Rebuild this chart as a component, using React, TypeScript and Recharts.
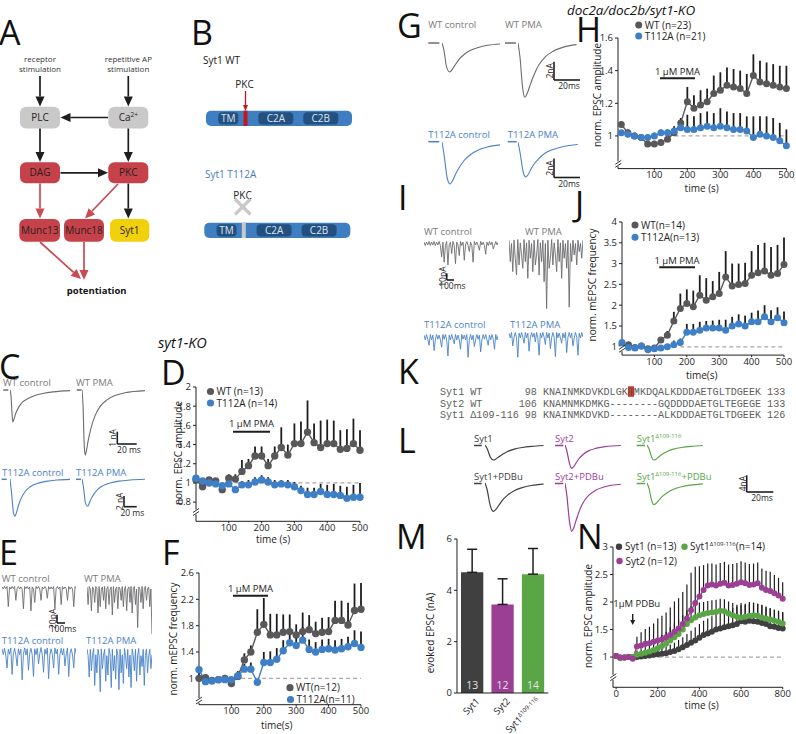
import React from "react";
import {
  LineChart,
  Line,
  XAxis,
  YAxis,
  ErrorBar,
  ReferenceLine,
  BarChart,
  Bar,
  Cell,
  LabelList,
} from "recharts";

const FONT = "'Open Sans', 'DejaVu Sans', sans-serif";
const INK = "#1e1e1e";
const GRAY = "#58585a";
const BLUE = "#3f7fc6";
const TRACE_GRAY = "#6c6c6e";
const TRACE_BLUE = "#4a82c6";
const DARK = "#404041";
const PURPLE = "#9b3f95";
const GREEN = "#5aa647";
const BOX_RED = "#c5424a";
const BOX_GRAY = "#c9c9ca";
const BOX_YELLOW = "#f1d10b";
const SYT_BLUE = "#3f7ec0";
const SYT_DOMAIN = "#24507f";

// ---- time courses (s) ----
const TIME_500 = [0, 20, 40, 60, 80, 100, 120, 140, 160, 180, 200, 220, 240, 260, 280, 300, 320, 340, 360, 380, 400, 420, 440, 460, 480, 500];

// D: syt1-KO, norm. EPSC amplitude
const D_WT = [1.03, 0.96, 1.03, 1.02, 0.93, 1.05, 1.04, 1.12, 1.18, 1.28, 1.28, 1.18, 1.28, 1.37, 1.29, 1.41, 1.41, 1.53, 1.42, 1.37, 1.41, 1.41, 1.35, 1.36, 1.41, 1.34];
const D_WT_ERR = [0.02, 0.03, 0.03, 0.03, 0.03, 0.04, 0.05, 0.12, 0.07, 0.1, 0.1, 0.07, 0.1, 0.21, 0.11, 0.21, 0.23, 0.33, 0.2, 0.28, 0.25, 0.24, 0.2, 0.2, 0.26, 0.21];
const D_MUT = [1.05, 1.02, 1.0, 0.99, 0.97, 0.99, 0.93, 0.98, 0.98, 1.01, 1.03, 1.01, 0.98, 0.99, 0.98, 0.96, 0.92, 0.88, 0.88, 0.91, 0.88, 0.88, 0.87, 0.84, 0.85, 0.85];
const D_MUT_ERR = [0.02, 0.02, 0.02, 0.02, 0.02, 0.03, 0.04, 0.04, 0.05, 0.05, 0.05, 0.05, 0.05, 0.04, 0.05, 0.05, 0.05, 0.07, 0.07, 0.08, 0.1, 0.11, 0.1, 0.12, 0.13, 0.15];

// F: syt1-KO, norm. mEPSC frequency
const F_WT = [1.0, 1.01, 0.97, 0.98, 1.0, 0.92, 1.03, 1.28, 1.4, 1.7, 1.82, 1.66, 1.66, 1.7, 1.71, 1.66, 1.71, 1.74, 1.68, 1.7, 1.71, 1.88, 1.88, 1.81, 2.03, 2.05];
const F_WT_ERR = [0.1, 0.03, 0.03, 0.03, 0.03, 0.03, 0.08, 0.1, 0.1, 0.35, 0.4, 0.32, 0.32, 0.27, 0.26, 0.16, 0.29, 0.22, 0.18, 0.22, 0.22, 0.3, 0.3, 0.34, 0.41, 0.4];
const F_MUT = [1.13, 0.95, 0.96, 0.98, 0.98, 0.98, 1.04, 1.14, 1.14, 0.94, 1.24, 1.24, 1.29, 1.42, 1.54, 1.5, 1.58, 1.44, 1.4, 1.44, 1.45, 1.43, 1.45, 1.48, 1.53, 1.47];
const F_MUT_ERR = [0.05, 0.02, 0.02, 0.02, 0.02, 0.03, 0.05, 0.08, 0.1, 0.05, 0.16, 0.17, 0.17, 0.16, 0.2, 0.17, 0.2, 0.15, 0.15, 0.15, 0.15, 0.15, 0.15, 0.15, 0.2, 0.24];

// H: doc2a/doc2b/syt1-KO, norm. EPSC amplitude
const H_WT = [1.07, 1.02, 1.0, 0.99, 0.95, 0.95, 0.96, 0.98, 1.02, 1.08, 1.21, 1.17, 1.19, 1.21, 1.26, 1.28, 1.31, 1.3, 1.29, 1.26, 1.37, 1.33, 1.32, 1.31, 1.3, 1.29];
const H_WT_ERR = [0.02, 0.02, 0.02, 0.02, 0.02, 0.02, 0.02, 0.02, 0.03, 0.03, 0.09, 0.08, 0.09, 0.08, 0.11, 0.11, 0.11, 0.11, 0.11, 0.12, 0.13, 0.13, 0.13, 0.13, 0.13, 0.14];
const H_MUT = [1.02, 1.01, 1.0, 0.99, 0.99, 1.0, 1.02, 1.02, 1.03, 1.05, 1.04, 1.04, 1.05, 1.06, 1.05, 1.06, 1.05, 1.04, 1.04, 1.03, 0.99, 1.01, 1.0, 0.99, 0.97, 0.94];
const H_MUT_ERR = [0.01, 0.01, 0.01, 0.01, 0.02, 0.02, 0.02, 0.02, 0.03, 0.04, 0.09, 0.08, 0.09, 0.09, 0.09, 0.11, 0.1, 0.1, 0.1, 0.09, 0.13, 0.11, 0.12, 0.12, 0.11, 0.1];

// J: doc2a/doc2b/syt1-KO, norm. mEPSC frequency
const J_WT = [1.05, 1.05, 0.98, 1.02, 0.95, 0.97, 1.16, 1.28, 1.62, 1.92, 2.04, 1.96, 2.24, 2.12, 2.2, 2.28, 2.68, 2.46, 2.5, 2.52, 2.72, 2.78, 2.82, 2.72, 2.76, 2.98];
const J_WT_ERR = [0.05, 0.03, 0.03, 0.03, 0.03, 0.03, 0.05, 0.1, 0.22, 0.36, 0.34, 0.39, 0.48, 0.53, 0.38, 0.52, 0.62, 0.54, 0.5, 0.5, 0.58, 0.67, 0.68, 0.68, 0.69, 0.65];
const J_MUT = [1.1, 0.98, 0.97, 1.02, 0.93, 0.95, 0.97, 1.0, 1.05, 1.1, 1.35, 1.35, 1.4, 1.45, 1.45, 1.45, 1.4, 1.5, 1.55, 1.5, 1.6, 1.6, 1.72, 1.6, 1.7, 1.58];
const J_MUT_ERR = [0.02, 0.02, 0.02, 0.02, 0.02, 0.02, 0.03, 0.05, 0.1, 0.1, 0.2, 0.2, 0.2, 0.17, 0.18, 0.2, 0.25, 0.22, 0.23, 0.25, 0.22, 0.27, 0.28, 0.28, 0.25, 0.27];

// N: PDBu potentiation
const TIME_800 = [0, 20, 40, 60, 80, 100, 120, 140, 160, 180, 200, 220, 240, 260, 280, 300, 320, 340, 360, 380, 400, 420, 440, 460, 480, 500, 520, 540, 560, 580, 600, 620, 640, 660, 680, 700, 720, 740, 760, 780, 800];
const N_SYT1 = [1.02, 0.99, 0.99, 1.0, 1.0, 1.0, 1.01, 1.02, 1.03, 1.04, 1.05, 1.06, 1.07, 1.09, 1.11, 1.14, 1.18, 1.22, 1.26, 1.3, 1.35, 1.4, 1.43, 1.46, 1.5, 1.52, 1.54, 1.56, 1.58, 1.6, 1.65, 1.64, 1.66, 1.65, 1.64, 1.62, 1.6, 1.56, 1.55, 1.53, 1.52];
const N_SYT1_ERR = [0.02, 0.02, 0.02, 0.02, 0.02, 0.05, 0.06, 0.07, 0.08, 0.09, 0.1, 0.11, 0.12, 0.14, 0.15, 0.17, 0.18, 0.2, 0.22, 0.24, 0.25, 0.26, 0.27, 0.28, 0.28, 0.3, 0.3, 0.3, 0.31, 0.32, 0.33, 0.33, 0.34, 0.34, 0.33, 0.33, 0.32, 0.32, 0.31, 0.31, 0.3];
const N_SYT2 = [1.02, 0.99, 0.99, 1.0, 0.97, 1.19, 1.21, 1.24, 1.25, 1.28, 1.3, 1.32, 1.36, 1.4, 1.46, 1.52, 1.6, 1.7, 1.85, 1.98, 2.1, 2.22, 2.3, 2.32, 2.3, 2.33, 2.35, 2.3, 2.31, 2.33, 2.36, 2.34, 2.31, 2.32, 2.34, 2.26, 2.22, 2.2, 2.16, 2.12, 2.06];
const N_SYT2_ERR = [0.02, 0.02, 0.02, 0.02, 0.02, 0.18, 0.24, 0.27, 0.3, 0.33, 0.4, 0.43, 0.45, 0.5, 0.55, 0.55, 0.58, 0.62, 0.68, 0.66, 0.55, 0.45, 0.4, 0.38, 0.38, 0.38, 0.38, 0.38, 0.38, 0.38, 0.38, 0.38, 0.38, 0.38, 0.38, 0.35, 0.35, 0.35, 0.33, 0.32, 0.3];
const N_SYTD = [1.02, 0.98, 0.99, 1.0, 1.0, 1.04, 1.06, 1.08, 1.1, 1.13, 1.16, 1.2, 1.24, 1.3, 1.36, 1.42, 1.5, 1.6, 1.67, 1.72, 1.76, 1.78, 1.8, 1.81, 1.82, 1.84, 1.83, 1.79, 1.76, 1.73, 1.72, 1.73, 1.75, 1.76, 1.75, 1.72, 1.7, 1.68, 1.66, 1.64, 1.61];
const N_SYTD_ERR = [0.02, 0.02, 0.02, 0.02, 0.02, 0.08, 0.1, 0.12, 0.14, 0.16, 0.18, 0.2, 0.22, 0.24, 0.25, 0.26, 0.26, 0.25, 0.25, 0.24, 0.23, 0.22, 0.22, 0.22, 0.22, 0.22, 0.22, 0.22, 0.22, 0.22, 0.22, 0.22, 0.22, 0.22, 0.22, 0.22, 0.21, 0.21, 0.2, 0.2, 0.2];

// M: evoked EPSC (nA)
const M_CATS = ["Syt1", "Syt2", "Syt1Δ109-116"];
const M_VALUES = [4.7, 3.45, 4.63];
const M_ERR = [0.9, 1.0, 1.0];
const M_N = [13, 12, 14];
const M_COLORS = [DARK, PURPLE, GREEN];

// ---- evoked EPSC traces: [ms, nA] ----
const C_WT_CTRL = [[0, 0], [1, -0.5], [2, -1.9], [2.8, -2.6], [4, -2.35], [6, -1.85], [9, -1.35], [13, -0.95], [18, -0.7], [25, -0.45], [33, -0.28], [43, -0.15], [60, -0.05]];
const C_WT_PMA = [[0, 0], [1, -1.2], [2.3, -4.6], [3.3, -5.3], [4.5, -4.9], [6, -4.2], [9, -3.1], [13, -2.1], [18, -1.35], [25, -0.8], [33, -0.45], [43, -0.22], [63, -0.05]];
const C_MUT_CTRL = [[0, 0], [1.5, -2.5], [3.5, -6.4], [5, -7.0], [6.5, -6.3], [8.5, -5.0], [11, -3.7], [15, -2.4], [20, -1.5], [27, -0.85], [36, -0.45], [47, -0.2], [60, -0.08]];
const C_MUT_PMA = [[0, 0], [1.5, -1.6], [3.5, -4.6], [5.5, -5.15], [7, -4.7], [9, -3.8], [12, -2.8], [16, -1.9], [21, -1.25], [28, -0.75], [37, -0.4], [48, -0.2], [63, -0.06]];

const G_WT_CTRL = [[0, 0], [1.5, -0.8], [3.5, -2.6], [5.8, -3.15], [7.5, -2.95], [10, -2.4], [13, -1.8], [17, -1.25], [22, -0.8], [28, -0.48], [35, -0.25], [45, -0.1]];
const G_WT_PMA = [[0, 0], [1.5, -1.5], [3.5, -4.8], [5.2, -5.9], [7, -5.5], [9.5, -4.5], [12.5, -3.4], [16, -2.4], [21, -1.5], [27, -0.9], [35, -0.45], [45, -0.18]];
const G_MUT_CTRL = [[0, 0], [1.5, -1.2], [4, -3.6], [6.2, -4.2], [8, -3.9], [10.5, -3.2], [13.5, -2.5], [17, -1.85], [22, -1.25], [28, -0.8], [35, -0.5], [45, -0.28]];
const G_MUT_PMA = [[0, 0], [1.5, -1.0], [4, -3.0], [6, -3.5], [7.8, -3.25], [10, -2.7], [13, -2.1], [16.5, -1.6], [21, -1.1], [27, -0.75], [35, -0.45], [46, -0.25]];

const L_SYT1 = [[0, 0], [1.5, -0.8], [4, -2.9], [6.2, -3.6], [8, -3.4], [10.5, -2.8], [13.5, -2.15], [17, -1.55], [22, -1.0], [28, -0.6], [35, -0.32], [44, -0.12]];
const L_SYT2 = [[0, 0], [1.2, -1.2], [3.5, -4.6], [5, -5.6], [6.5, -5.2], [8.5, -4.2], [11, -3.1], [14, -2.15], [18, -1.35], [23, -0.8], [30, -0.4], [42, -0.12]];
const L_SYTD = [[0, 0], [1.5, -0.9], [3.5, -2.9], [5, -3.6], [6.8, -3.4], [9, -2.8], [12, -2.1], [15.5, -1.5], [20, -1.0], [26, -0.6], [33, -0.32], [42, -0.12]];
const L_SYT1_PDBU = [[0, 0], [1.5, -1.5], [4, -5.5], [6.2, -6.8], [8, -6.4], [10.5, -5.3], [13.5, -4.0], [17, -2.9], [22, -1.85], [28, -1.1], [35, -0.6], [44, -0.25]];
const L_SYT2_PDBU = [[0, 0], [1.2, -2.5], [3.5, -9.5], [5, -11.6], [6.5, -10.8], [8.5, -8.8], [11, -6.5], [14, -4.5], [18, -2.9], [23, -1.75], [30, -0.9], [42, -0.3]];
const L_SYTD_PDBU = [[0, 0], [1.5, -1.3], [3.5, -4.2], [5, -5.2], [6.8, -4.9], [9, -4.1], [12, -3.1], [15.5, -2.25], [20, -1.5], [26, -0.9], [33, -0.5], [42, -0.2]];

// ---- mEPSC recordings (pA) ----
const E_WT_CTRL = [2, -3, 3, -2, 3, -45, 2, -3, 3, -2, 3, -30, -2, 3, -3, 2, -3, -50, 3, -2, 3, -3, 2, -55, 2, -3, -35, 3, -2, 3, -3, -30, 2, -3, 3, -2, -25, 3, -3, 2, -3, 3, -50, -2, 3, -3, 2, -40, 3, -3, 2, -2, -30, 3, -3, 2, -3, -45, 3, -2];
const E_WT_PMA = [2, -40, 3, -3, -55, 2, -3, -35, 3, -2, -60, 3, -45, -3, 2, -30, 3, -50, -2, 3, -40, -3, 2, -65, 3, -35, -3, 2, -50, 2, -3, -30, 3, -45, -2, 3, -55, -3, 2, -35, 3, -60, -2, 3, -40, -3, -95, 2, -3, -35, 3, -50, -2, 3, -30, -3, 2, -45, -3, -110];
const E_MUT_CTRL = [6, -8, 7, -9, -40, 5, -7, 8, -55, -6, 7, -9, -35, 6, -8, 5, -68, -7, 8, -9, 6, -45, -5, 7, -9, -60, 6, -8, 7, -30, -6, 9, -8, -50, 5, -7, 8, -65, -9, 6, -7, -40, 8, -6, 5, -55, -8, 7, -9, 6, -35, -7, 8, -60, -5, 6, -9, -40, 7, -6];
const E_MUT_PMA = [7, -9, -60, 6, -45, -8, 8, -80, -7, -50, 6, -9, -95, 7, -40, -8, 6, -70, -9, -55, 8, -7, -85, 6, -45, -9, -65, 7, -8, -90, 6, -50, -7, -75, 8, -9, -40, 6, -60, -8, -85, 7, -9, -45, 6, -70, -7, 8, -55, -9, -35, 6, -80, -8, 7, -50, -9, 6, -40, -7];
const I_WT_CTRL = [2, -3, 2, -2, 3, -3, 2, -2, 3, -3, 2, -2, 3, -3, -20, 2, -28, -3, 3, -32, -2, 2, -15, 3, -3, -30, 2, -2, -18, 3, -3, 2, -25, -2, 3, -3, -12, 2, -3, -28, 3, -2, 2, -3, -10, 3, -2, 2, -3, -16, 2, -3, 3, -2, 2, -8, -3, 3, -2, 2];
const I_WT_PMA = [2, -30, -3, -45, 2, -25, -50, 3, -35, -2, -20, -40, 3, -30, -2, -55, 2, -25, -3, -45, 2, -35, -20, 3, -50, -2, -30, 2, -60, -3, -100, 2, -40, -25, 3, -35, -2, -20, -45, 3, -30, -2, -55, 2, -25, -3, -40, 2, -98, -3, -30, 2, -20, -3, -35, 2, -15, -3, -25, 2];
const I_MUT_CTRL = [3, -4, 4, -3, -12, 4, -4, 3, -20, -4, 4, -3, 3, -4, -15, 4, -3, 4, -4, -28, 3, -4, 4, -3, -10, 4, -4, 3, -4, -18, 4, -3, 3, -4, 4, -30, -3, 4, -4, 3, -14, -4, 4, -3, 3, -22, -4, 4, -3, 4, -4, -12, 3, -4, 4, -3, -18, 4, -4, 3];
const I_MUT_PMA = [3, -4, 4, -16, -3, 4, -4, -33, 3, -4, 4, -3, -12, 4, -4, 3, -24, -4, 4, -3, 3, -10, 4, -4, -30, 3, -4, 4, -3, -14, 4, -4, 3, -20, -4, 4, -3, -32, 4, -4, 3, -4, -12, 3, -4, 4, -26, -3, 4, -4, 3, -16, -4, 4, -3, -30, 3, -4, 4, -3];

const SEQ_WT = ["KNAINMKDVKDLGK", "T", "MKDQALKDDDAETGLTDGEEK"];
const SEQ_SYT2 = "KNAMNMKDMKG--------GQDDDDAETGLTEGEGE";
const SEQ_DEL = "KNAINMKDVKD--------ALKDDDAETGLTDGEEK";

function buildRows(time: number[], cols: [string, number[], number[]][]) {
  return time.map((t, i) => {
    const r: any = { t };
    cols.forEach(([k, v, e]) => {
      r[k] = v[i];
      r[k + "Err"] = [0, e[i]];
    });
    return r;
  });
}

const tickStyle = { fontSize: 9.5, fill: INK };

function TimeCourse({ pl, pt, pr, pb, rows, series, xDomain, xTicks, yDomain, yTicks, dash, r, ew }: any) {
  return (
    <div style={{ position: "absolute", left: pl - 40, top: pt - 10 }}>
      <LineChart width={pr - pl + 50} height={pb - pt + 32} data={rows} margin={{ top: 10, right: 10, bottom: 0, left: 0 }}>
        <XAxis type="number" dataKey="t" domain={xDomain} ticks={xTicks} interval={0} height={22} tickSize={2} tickMargin={1} stroke={INK} tick={tickStyle} />
        <YAxis type="number" domain={yDomain} ticks={yTicks} interval={0} width={40} tickSize={3} tickMargin={2} stroke={INK} tick={tickStyle} />
        <ReferenceLine segment={[{ x: dash[0], y: 1 }, { x: dash[1], y: 1 }]} stroke="#a8a8a8" strokeDasharray="4 3" strokeWidth={1.2} />
        {series.map((s: any) => (
          <Line key={s.key} dataKey={s.key} type="linear" stroke={s.color} strokeWidth={1.4}
            dot={{ r, fill: s.color, stroke: s.color, strokeWidth: 0 }} isAnimationActive={false}>
            <ErrorBar dataKey={s.key + "Err"} width={0} stroke={INK} strokeWidth={ew} direction="y" />
          </Line>
        ))}
      </LineChart>
    </div>
  );
}

function Evoked({ x, base, pts, pxMs, pxNA, color, sw = 1.1 }: any) {
  const rows = pts.map((p: number[]) => ({ t: p[0], v: p[1] }));
  const tMax = pts[pts.length - 1][0];
  const vMin = Math.min(...pts.map((p: number[]) => p[1]));
  const pad = 2 / pxNA;
  return (
    <div style={{ position: "absolute", left: x, top: base - pad * pxNA }}>
      <LineChart width={tMax * pxMs} height={(2 * pad - vMin) * pxNA} data={rows} margin={{ top: 0, right: 0, bottom: 0, left: 0 }}>
        <XAxis type="number" dataKey="t" domain={[0, tMax]} hide />
        <YAxis type="number" domain={[vMin - pad, pad]} hide />
        <Line type="monotone" dataKey="v" stroke={color} strokeWidth={sw} dot={false} isAnimationActive={false} />
      </LineChart>
    </div>
  );
}

function Minis({ x, base, w, vals, pxPA, color }: any) {
  const rows = vals.map((v: number, i: number) => ({ i, v }));
  const hi = Math.max(...vals) + 1.5 / pxPA;
  const lo = Math.min(...vals) - 1.5 / pxPA;
  return (
    <div style={{ position: "absolute", left: x, top: base - hi * pxPA }}>
      <LineChart width={w} height={(hi - lo) * pxPA} data={rows} margin={{ top: 0, right: 0, bottom: 0, left: 0 }}>
        <XAxis type="number" dataKey="i" domain={[0, vals.length - 1]} hide />
        <YAxis type="number" domain={[lo, hi]} hide />
        <Line type="linear" dataKey="v" stroke={color} strokeWidth={0.9} dot={false} isAnimationActive={false} />
      </LineChart>
    </div>
  );
}

function MTick(props: any) {
  const { x, y, payload } = props;
  const [base, sup] = String(payload.value).split("Δ");
  return (
    <g transform={`translate(${x + 8},${y + 1})`}>
      <text transform="rotate(-45)" textAnchor="end" fontSize={9.5} fill={INK}>
        {base}
        {sup ? <tspan fontSize={6} dy={-4}>{"Δ" + sup}</tspan> : null}
      </text>
    </g>
  );
}

function Arrow({ x1, y1, x2, y2, color = INK, head = 10, hw = 9, sw = 1.7 }: any) {
  const dx = x2 - x1, dy = y2 - y1;
  const L = Math.hypot(dx, dy);
  const ux = dx / L, uy = dy / L;
  const bx = x2 - ux * head, by = y2 - uy * head;
  const px = (-uy * hw) / 2, py = (ux * hw) / 2;
  return (
    <g>
      <line x1={x1} y1={y1} x2={bx} y2={by} stroke={color} strokeWidth={sw} />
      <polygon points={`${x2},${y2} ${bx + px},${by + py} ${bx - px},${by - py}`} fill={color} />
    </g>
  );
}

function Node({ x, y, w, h, fill, children }: any) {
  return (
    <g>
      <rect x={x} y={y} width={w} height={h} rx={6} fill={fill} />
      <text x={x + w / 2} y={y + h / 2 + 3.5} textAnchor="middle" fontSize={10} fill="#2a2020">{children}</text>
    </g>
  );
}

function SytBar({ x, y, mark, markColor }: any) {
  return (
    <g>
      <rect x={x} y={y} width={146} height={15.3} rx={5} fill={SYT_BLUE} />
      <rect x={x + 12.3} y={y + 1.6} width={20} height={12.1} rx={4} fill={SYT_DOMAIN} />
      <rect x={x + 52.3} y={y + 1.6} width={35} height={12.1} rx={4} fill={SYT_DOMAIN} />
      <rect x={x + 97.3} y={y + 1.6} width={35} height={12.1} rx={4} fill={SYT_DOMAIN} />
      <text x={x + 22.3} y={y + 11.7} textAnchor="middle" fontSize={10} fill="#dbe6f2">TM</text>
      <text x={x + 69.8} y={y + 11.7} textAnchor="middle" fontSize={10} fill="#dbe6f2">C2A</text>
      <text x={x + 114.8} y={y + 11.7} textAnchor="middle" fontSize={10} fill="#dbe6f2">C2B</text>
      <rect x={x + mark} y={y} width={4} height={15.3} fill={markColor} />
    </g>
  );
}

function Break({ x, y }: any) {
  return (
    <g>
      <rect x={x - 3} y={y - 2} width={6} height={5} fill="#fff" />
      <line x1={x - 3} y1={y + 1} x2={x + 3} y2={y - 3} stroke={INK} strokeWidth={0.9} />
      <line x1={x - 3} y1={y + 4} x2={x + 3} y2={y} stroke={INK} strokeWidth={0.9} />
    </g>
  );
}

function Key({ x, y, color, r = 3.6, children }: any) {
  return (
    <g>
      <circle cx={x} cy={y} r={r} fill={color} />
      <text x={x + 6} y={y + 3.5} fontSize={10} fill={INK}>{children}</text>
    </g>
  );
}

function VLabel({ x, y, children, size = 10 }: any) {
  return (
    <text transform={`translate(${x},${y}) rotate(-90)`} textAnchor="middle" dominantBaseline="central" fontSize={size} fill={INK}>
      {children}
    </text>
  );
}

function ScaleBar({ x, y, v, h, vLabel, hLabel }: any) {
  return (
    <g>
      <line x1={x} y1={y - v} x2={x} y2={y} stroke={INK} strokeWidth={1.6} />
      <line x1={x} y1={y} x2={x + h} y2={y} stroke={INK} strokeWidth={1.6} />
      <VLabel x={x - 4.5} y={y - v / 2} size={8.5}>{vLabel}</VLabel>
      <text x={x + h / 2 + 2} y={y + 9} textAnchor="middle" fontSize={8.5} fill={INK}>{hLabel}</text>
    </g>
  );
}

function Dash({ x1, x2, y, color }: any) {
  return <line x1={x1} y1={y} x2={x2} y2={y} stroke={color} strokeWidth={1.5} />;
}

function Overlay() {
  const L = { fontSize: 34, fill: "#111" };
  const lab = (x: number, y: number, s: string, c: string) => (
    <text x={x} y={y} fontSize={9.5} fill={c}>{s}</text>
  );
  return (
    <svg width={796} height={734} style={{ position: "absolute", left: 0, top: 0, pointerEvents: "none" }} fontFamily={FONT}>
      {/* panel letters */}
      <text x={-1} y={45} {...L}>A</text>
      <text x={191} y={45} {...L}>B</text>
      <text x={-1} y={379} {...L}>C</text>
      <text x={161} y={385} {...L}>D</text>
      <text x={-1} y={565} {...L}>E</text>
      <text x={162} y={565} {...L}>F</text>
      <text x={397} y={38} {...L}>G</text>
      <text x={576} y={42} {...L}>H</text>
      <text x={398} y={210} {...L}>I</text>
      <text x={575} y={216} {...L}>J</text>
      <text x={398} y={384} {...L}>K</text>
      <text x={398} y={453} {...L}>L</text>
      <text x={396} y={549} {...L}>M</text>
      <text x={577} y={549} {...L}>N</text>

      {/* A: signalling scheme */}
      <g fontSize={8} fill="#333" textAnchor="middle">
        <text x={40} y={62}>receptor</text>
        <text x={40} y={72}>stimulation</text>
        <text x={128.3} y={62}>repetitive AP</text>
        <text x={128.3} y={72}>stimulation</text>
      </g>
      <Arrow x1={40} y1={76} x2={40} y2={106.5} />
      <Arrow x1={128.3} y1={76} x2={128.3} y2={106.5} />
      <Node x={20} y={106.7} w={40} h={21.7} fill={BOX_GRAY}>PLC</Node>
      <g>
        <rect x={108.3} y={106.7} width={40} height={21.7} rx={6} fill={BOX_GRAY} />
        <text x={128.3} y={121} textAnchor="middle" fontSize={10} fill="#2a2020">
          Ca<tspan fontSize={6.5} dy={-4}>2+</tspan>
        </text>
      </g>
      <Arrow x1={108} y1={117.5} x2={60.5} y2={117.5} />
      <Arrow x1={40} y1={128.5} x2={40} y2={162} />
      <Arrow x1={128.3} y1={128.5} x2={128.3} y2={162} />
      <Node x={20} y={162.3} w={40} h={21} fill={BOX_RED}>DAG</Node>
      <Node x={108.3} y={162.3} w={40} h={21} fill={BOX_RED}>PKC</Node>
      <Arrow x1={60.5} y1={172.8} x2={108} y2={172.8} />
      <Node x={19.3} y={219} w={40.7} h={22.7} fill={BOX_RED}>Munc13</Node>
      <Node x={64} y={219} w={40} h={22.7} fill={BOX_RED}>Munc18</Node>
      <Node x={110} y={219} w={39.3} h={22.7} fill={BOX_YELLOW}>Syt1</Node>
      <Arrow x1={40} y1={183.5} x2={40} y2={218.5} color="#c84b51" />
      <Arrow x1={118} y1={184} x2={85} y2={218.5} color="#c84b51" />
      <Arrow x1={128.3} y1={183.5} x2={128.3} y2={218.5} />
      <Arrow x1={40} y1={242} x2={81} y2={279} color="#c84b51" />
      <Arrow x1={84} y1={242} x2={84} y2={280} color="#c84b51" />
      <text x={96.7} y={294} textAnchor="middle" fontSize={9.5} fontWeight="bold" fill="#111">potentiation</text>

      {/* B: synaptotagmin domains */}
      <text x={203} y={64} fontSize={10} fill="#222">Syt1 WT</text>
      <text x={244.5} y={88} textAnchor="middle" fontSize={10} fill="#222">PKC</text>
      <Arrow x1={245.5} y1={91} x2={245.5} y2={111} color="#c4161c" head={6} hw={5} sw={1.3} />
      <SytBar x={206} y={110.7} mark={37.5} markColor="#c4161c" />
      <text x={205} y={178} fontSize={10} fill="#4a7cb8">Syt1 T112A</text>
      <text x={242.5} y={199} textAnchor="middle" fontSize={10} fill="#222">PKC</text>
      <line x1={235} y1={199} x2={250.5} y2={214.5} stroke="#c8c8c8" strokeWidth={3.2} />
      <line x1={250.5} y1={199} x2={235} y2={214.5} stroke="#c8c8c8" strokeWidth={3.2} />
      <SytBar x={204.3} y={222.7} mark={37.5} markColor="#c8c8c8" />

      {/* titles */}
      <text x={158} y={348} fontSize={14.5} fontStyle="italic" fill="#111">syt1-KO</text>
      <text x={631} y={14.5} textAnchor="middle" fontSize={13.5} fontStyle="italic" fill="#111">doc2a/doc2b/syt1-KO</text>

      {/* C labels */}
      {lab(3, 385.5, "WT control", "#7a7a7a")}
      {lab(76, 385.5, "WT PMA", "#7a7a7a")}
      {lab(2, 475.5, "T112A control", TRACE_BLUE)}
      {lab(76, 475.5, "T112A PMA", TRACE_BLUE)}
      <Dash x1={3.3} x2={8.3} y={390} color={TRACE_GRAY} />
      <Dash x1={76.7} x2={81.7} y={390} color={TRACE_GRAY} />
      <Dash x1={1.7} x2={6.7} y={479.3} color={TRACE_BLUE} />
      <Dash x1={76} x2={81} y={479.3} color={TRACE_BLUE} />
      <ScaleBar x={117.3} y={444} v={12.3} h={19.4} vLabel="1 nA" hLabel="20 ms" />
      <ScaleBar x={124} y={506.7} v={10.7} h={12.7} vLabel="2 nA" hLabel="20 ms" />

      {/* E labels */}
      {lab(1.7, 581.5, "WT control", "#7a7a7a")}
      {lab(84, 581.5, "WT PMA", "#7a7a7a")}
      {lab(1.7, 644, "T112A control", TRACE_BLUE)}
      {lab(86, 644, "T112A PMA", TRACE_BLUE)}
      <ScaleBar x={57} y={623} v={8.3} h={8} vLabel="20pA" hLabel="100ms" />

      {/* G labels */}
      {lab(428.3, 28, "WT control", "#7a7a7a")}
      {lab(505, 28, "WT PMA", "#7a7a7a")}
      {lab(428.3, 138, "T112A control", TRACE_BLUE)}
      {lab(507.7, 138, "T112A PMA", TRACE_BLUE)}
      <Dash x1={428.3} x2={439.3} y={43} color={TRACE_GRAY} />
      <Dash x1={505} x2={516} y={43} color={TRACE_GRAY} />
      <Dash x1={428.3} x2={439.3} y={141.7} color={TRACE_BLUE} />
      <Dash x1={507.7} x2={516.7} y={141.7} color={TRACE_BLUE} />
      <ScaleBar x={554} y={80} v={18.3} h={26} vLabel="2nA" hLabel="20ms" />
      <ScaleBar x={554} y={177.5} v={19} h={26} vLabel="2nA" hLabel="20ms" />

      {/* I labels */}
      {lab(424, 235, "WT control", "#7a7a7a")}
      {lab(525, 235, "WT PMA", "#7a7a7a")}
      {lab(424, 328, "T112A control", TRACE_BLUE)}
      {lab(510, 328, "T112A PMA", TRACE_BLUE)}
      <ScaleBar x={446.7} y={280} v={6.7} h={7.3} vLabel="10pA" hLabel="100ms" />

      {/* D annotations */}
      <Key x={210.5} y={391.5} color={GRAY}>WT (n=13)</Key>
      <Key x={210.5} y={403} color={BLUE}>T112A (n=14)</Key>
      <line x1={233} y1={431.7} x2={270} y2={431.7} stroke={INK} strokeWidth={2} />
      <text x={251.5} y={427} textAnchor="middle" fontSize={9.5} fill={INK}>1 μM PMA</text>
      <VLabel x={178} y={453}>norm. EPSC amplitude</VLabel>
      <text x={273} y={542.5} textAnchor="middle" fontSize={10} fill={INK}>time (s)</text>
      <Break x={196} y={511.5} />

      {/* F annotations */}
      <Key x={290} y={687.7} color={GRAY}>WT(n=12)</Key>
      <Key x={290.5} y={699.5} color={BLUE}>T112A(n=11)</Key>
      <line x1={233} y1={595.7} x2={268} y2={595.7} stroke={INK} strokeWidth={2} />
      <text x={250.5} y={591.5} textAnchor="middle" fontSize={9.5} fill={INK}>1 μM PMA</text>
      <VLabel x={173.3} y={639}>norm. mEPSC frequency</VLabel>
      <text x={276.7} y={729} textAnchor="middle" fontSize={10} fill={INK}>time(s)</text>
      <Break x={199} y={700} />

      {/* H annotations */}
      <Key x={638.7} y={25} r={3.5} color={GRAY}>WT (n=23)</Key>
      <Key x={638.7} y={36} r={3.5} color={BLUE}>T112A (n=21)</Key>
      <line x1={660} y1={78.3} x2={695} y2={78.3} stroke={INK} strokeWidth={2} />
      <text x={677.5} y={74.5} textAnchor="middle" fontSize={9.5} fill={INK}>1 μM PMA</text>
      <VLabel x={596.7} y={95}>norm. EPSC amplitude</VLabel>
      <text x={701.7} y={191.5} textAnchor="middle" fontSize={10} fill={INK}>time (s)</text>
      <Break x={618.3} y={163.3} />

      {/* J annotations */}
      <Key x={635} y={225} r={3.5} color={GRAY}>WT(n=14)</Key>
      <Key x={635} y={237.3} r={3.5} color={BLUE}>T112A(n=13)</Key>
      <line x1={659.3} y1={267.3} x2={695} y2={267.3} stroke={INK} strokeWidth={2} />
      <text x={677} y={263.5} textAnchor="middle" fontSize={9.5} fill={INK}>1 μM PMA</text>
      <VLabel x={591.7} y={285}>norm. mEPSC frequency</VLabel>
      <text x={701.7} y={378.5} textAnchor="middle" fontSize={10} fill={INK}>time(s)</text>
      <Break x={622} y={348.3} />

      {/* K: sequence alignment */}
      <rect x={627.9} y={386.3} width={6.1} height={10.5} fill="#c0392b" />
      <g fontFamily="'Liberation Mono', monospace" fontSize={10.1} fill="#5e5e5e" style={{ whiteSpace: "pre" }}>
        <text x={440} y={395} xmlSpace="preserve">{"Syt1 WT       98 " + SEQ_WT.join("") + " 133"}</text>
        <text x={440} y={406.5} xmlSpace="preserve">{"Syt2 WT      106 " + SEQ_SYT2 + " 133"}</text>
        <text x={440} y={418} xmlSpace="preserve">{"Syt1 Δ109-116 98 " + SEQ_DEL + " 126"}</text>
      </g>

      {/* L labels */}
      <g fontSize={9.5}>
        <text x={474} y={441.5} fill={DARK}>Syt1</text>
        <text x={555} y={441.5} fill={PURPLE}>Syt2</text>
        <text x={636.7} y={441.5} fill={GREEN}>Syt1<tspan fontSize={6} dy={-4}>Δ109-116</tspan></text>
        <text x={474} y={479.5} fill={DARK}>Syt1+PDBu</text>
        <text x={555} y={479.5} fill={PURPLE}>Syt2+PDBu</text>
        <text x={636.7} y={479.5} fill={GREEN}>Syt1<tspan fontSize={6} dy={-4}>Δ109-116</tspan><tspan dy={4}>+PDBu</tspan></text>
      </g>
      <Dash x1={474} x2={481.7} y={445.5} color={DARK} />
      <Dash x1={555} x2={563.3} y={445.5} color={PURPLE} />
      <Dash x1={636.7} x2={645} y={445.5} color={GREEN} />
      <Dash x1={474} x2={481.7} y={483.5} color={DARK} />
      <Dash x1={555} x2={563.3} y={483.5} color={PURPLE} />
      <Dash x1={636.7} x2={645} y={483.5} color={GREEN} />
      <ScaleBar x={746.7} y={492} v={16.7} h={26.6} vLabel="4nA" hLabel="20ms" />

      {/* M annotations */}
      <VLabel x={430} y={633}>evoked EPSC (nA)</VLabel>

      {/* N annotations */}
      <Key x={619} y={546.7} r={3.2} color={DARK}>Syt1 (n=13)</Key>
      <circle cx={684.5} cy={546.7} r={3.2} fill={GREEN} />
      <text x={690} y={550.2} fontSize={10} fill={INK}>Syt1<tspan fontSize={6} dy={-4}>Δ109-116</tspan><tspan dy={4}>(n=14)</tspan></text>
      <Key x={619.5} y={561} r={3.2} color={PURPLE}>Syt2 (n=12)</Key>
      <text x={613.3} y={607} fontSize={9.5} fill={INK}>1μM PDBu</text>
      <Arrow x1={632.7} y1={614} x2={632.7} y2={625} head={5} hw={5} sw={1.4} />
      <VLabel x={588.3} y={616}>norm. EPSC amplitude</VLabel>
      <text x={701.7} y={709} textAnchor="middle" fontSize={10} fill={INK}>time (s)</text>
      <Break x={613.3} y={676.7} />
    </svg>
  );
}

export default function App() {
  const dRows = buildRows(TIME_500, [["a", D_WT, D_WT_ERR], ["b", D_MUT, D_MUT_ERR]]);
  const fRows = buildRows(TIME_500, [["a", F_WT, F_WT_ERR], ["b", F_MUT, F_MUT_ERR]]);
  const hRows = buildRows(TIME_500, [["a", H_WT, H_WT_ERR], ["b", H_MUT, H_MUT_ERR]]);
  const jRows = buildRows(TIME_500, [["a", J_WT, J_WT_ERR], ["b", J_MUT, J_MUT_ERR]]);
  const nRows = buildRows(TIME_800, [["a", N_SYT1, N_SYT1_ERR], ["c", N_SYTD, N_SYTD_ERR], ["b", N_SYT2, N_SYT2_ERR]]);
  const mRows = M_CATS.map((name, i) => ({ name, v: M_VALUES[i], err: [0, M_ERR[i]], n: M_N[i] }));
  const wtMut = [{ key: "a", color: GRAY }, { key: "b", color: BLUE }];
  const xt = [100, 200, 300, 400, 500];

  return (
    <div style={{ position: "absolute", left: 0, top: 0, width: 796, height: 734, background: "#fff", fontFamily: FONT, overflow: "hidden" }}>
      {/* C */}
      <Evoked x={10} base={390} pts={C_WT_CTRL} pxMs={1} pxNA={12.3} color={TRACE_GRAY} />
      <Evoked x={81.7} base={390} pts={C_WT_PMA} pxMs={1} pxNA={12.3} color={TRACE_GRAY} />
      <Evoked x={10} base={479.3} pts={C_MUT_CTRL} pxMs={1} pxNA={5.3} color={TRACE_BLUE} />
      <Evoked x={81.7} base={479.3} pts={C_MUT_PMA} pxMs={1} pxNA={5.3} color={TRACE_BLUE} />
      {/* E */}
      <Minis x={1.7} base={587.3} w={74.3} vals={E_WT_CTRL} pxPA={0.42} color={TRACE_GRAY} />
      <Minis x={86.7} base={587.3} w={65} vals={E_WT_PMA} pxPA={0.42} color={TRACE_GRAY} />
      <Minis x={1.7} base={651.7} w={74.3} vals={E_MUT_CTRL} pxPA={0.42} color={TRACE_BLUE} />
      <Minis x={86.7} base={651.7} w={65} vals={E_MUT_PMA} pxPA={0.42} color={TRACE_BLUE} />
      {/* G */}
      <Evoked x={441.7} base={42.7} pts={G_WT_CTRL} pxMs={1.3} pxNA={9.2} color={TRACE_GRAY} />
      <Evoked x={518.3} base={42.7} pts={G_WT_PMA} pxMs={1.3} pxNA={9.2} color={TRACE_GRAY} />
      <Evoked x={441.7} base={141.7} pts={G_MUT_CTRL} pxMs={1.3} pxNA={10} color={TRACE_BLUE} />
      <Evoked x={518.3} base={141.7} pts={G_MUT_PMA} pxMs={1.3} pxNA={10} color={TRACE_BLUE} />
      {/* I */}
      <Minis x={424} base={243.3} w={74.3} vals={I_WT_CTRL} pxPA={0.67} color={TRACE_GRAY} />
      <Minis x={509.3} base={241.7} w={74} vals={I_WT_PMA} pxPA={0.67} color={TRACE_GRAY} />
      <Minis x={424} base={336.7} w={74.3} vals={I_MUT_CTRL} pxPA={0.67} color={TRACE_BLUE} />
      <Minis x={509.3} base={335} w={74} vals={I_MUT_PMA} pxPA={0.67} color={TRACE_BLUE} />
      {/* L */}
      <Evoked x={485} base={445} pts={L_SYT1} pxMs={1.33} pxNA={4.17} color={DARK} sw={1.2} />
      <Evoked x={565} base={445} pts={L_SYT2} pxMs={1.33} pxNA={4.17} color={PURPLE} sw={1.2} />
      <Evoked x={646.7} base={445} pts={L_SYTD} pxMs={1.33} pxNA={4.17} color={GREEN} sw={1.2} />
      <Evoked x={485} base={483.3} pts={L_SYT1_PDBU} pxMs={1.33} pxNA={4.17} color={DARK} sw={1.2} />
      <Evoked x={565} base={483.3} pts={L_SYT2_PDBU} pxMs={1.33} pxNA={4.17} color={PURPLE} sw={1.2} />
      <Evoked x={646.7} base={483.3} pts={L_SYTD_PDBU} pxMs={1.33} pxNA={4.17} color={GREEN} sw={1.2} />

      {/* D, F, H, J */}
      <TimeCourse pl={196} pt={386.7} pr={360} pb={521} rows={dRows} series={wtMut} xDomain={[0, 500]} xTicks={xt}
        yDomain={[0.6, 2]} yTicks={[0.8, 1, 1.2, 1.4, 1.6, 1.8, 2]} dash={[120, 500]} r={3.7} ew={1.8} />
      <TimeCourse pl={199} pt={573.3} pr={361} pb={705} rows={fRows} series={wtMut} xDomain={[0, 500]} xTicks={xt}
        yDomain={[0.6, 2.6]} yTicks={[1, 1.4, 1.8, 2.2, 2.6]} dash={[130, 500]} r={3.7} ew={1.8} />
      <TimeCourse pl={618.3} pt={37.7} pr={786.7} pb={168.3} rows={hRows} series={wtMut} xDomain={[-10, 500]} xTicks={xt}
        yDomain={[0.8, 1.6]} yTicks={[1, 1.2, 1.4, 1.6]} dash={[140, 500]} r={3.5} ew={1.8} />
      <TimeCourse pl={622} pt={222.3} pr={784} pb={355.4} rows={jRows} series={wtMut} xDomain={[0, 500]} xTicks={xt}
        yDomain={[0.8, 4]} yTicks={[1, 1.5, 2, 2.5, 3, 3.5, 4]} dash={[180, 500]} r={3.5} ew={1.8} />
      {/* N */}
      <TimeCourse pl={613} pt={546.7} pr={782.7} pb={687} rows={nRows}
        series={[{ key: "a", color: DARK }, { key: "c", color: GREEN }, { key: "b", color: PURPLE }]}
        xDomain={[-15, 800]} xTicks={[0, 200, 400, 600, 800]} yDomain={[0.45, 3]} yTicks={[1, 1.5, 2, 2.5, 3]}
        dash={[100, 800]} r={3} ew={1.2} />

      {/* M */}
      <div style={{ position: "absolute", left: 417, top: 529.3 }}>
        <BarChart width={141.3} height={204} data={mRows} margin={{ top: 10, right: 10, bottom: 0, left: 0 }} barSize={22.3}>
          <XAxis dataKey="name" height={40} tickLine={false} stroke={INK} tick={<MTick />} interval={0} />
          <YAxis type="number" domain={[0, 6]} ticks={[0, 2, 4, 6]} width={40} tickSize={3} tickMargin={2} stroke={INK} tick={tickStyle} />
          <Bar dataKey="v" isAnimationActive={false}>
            {mRows.map((row, i) => (
              <Cell key={row.name} fill={M_COLORS[i]} />
            ))}
            <ErrorBar dataKey="err" width={5} stroke={INK} strokeWidth={1.5} direction="y" />
            <LabelList dataKey="n" position="insideBottom" fill="#e4e4e4" fontSize={10.5} offset={4} />
          </Bar>
        </BarChart>
      </div>

      <Overlay />
    </div>
  );
}
